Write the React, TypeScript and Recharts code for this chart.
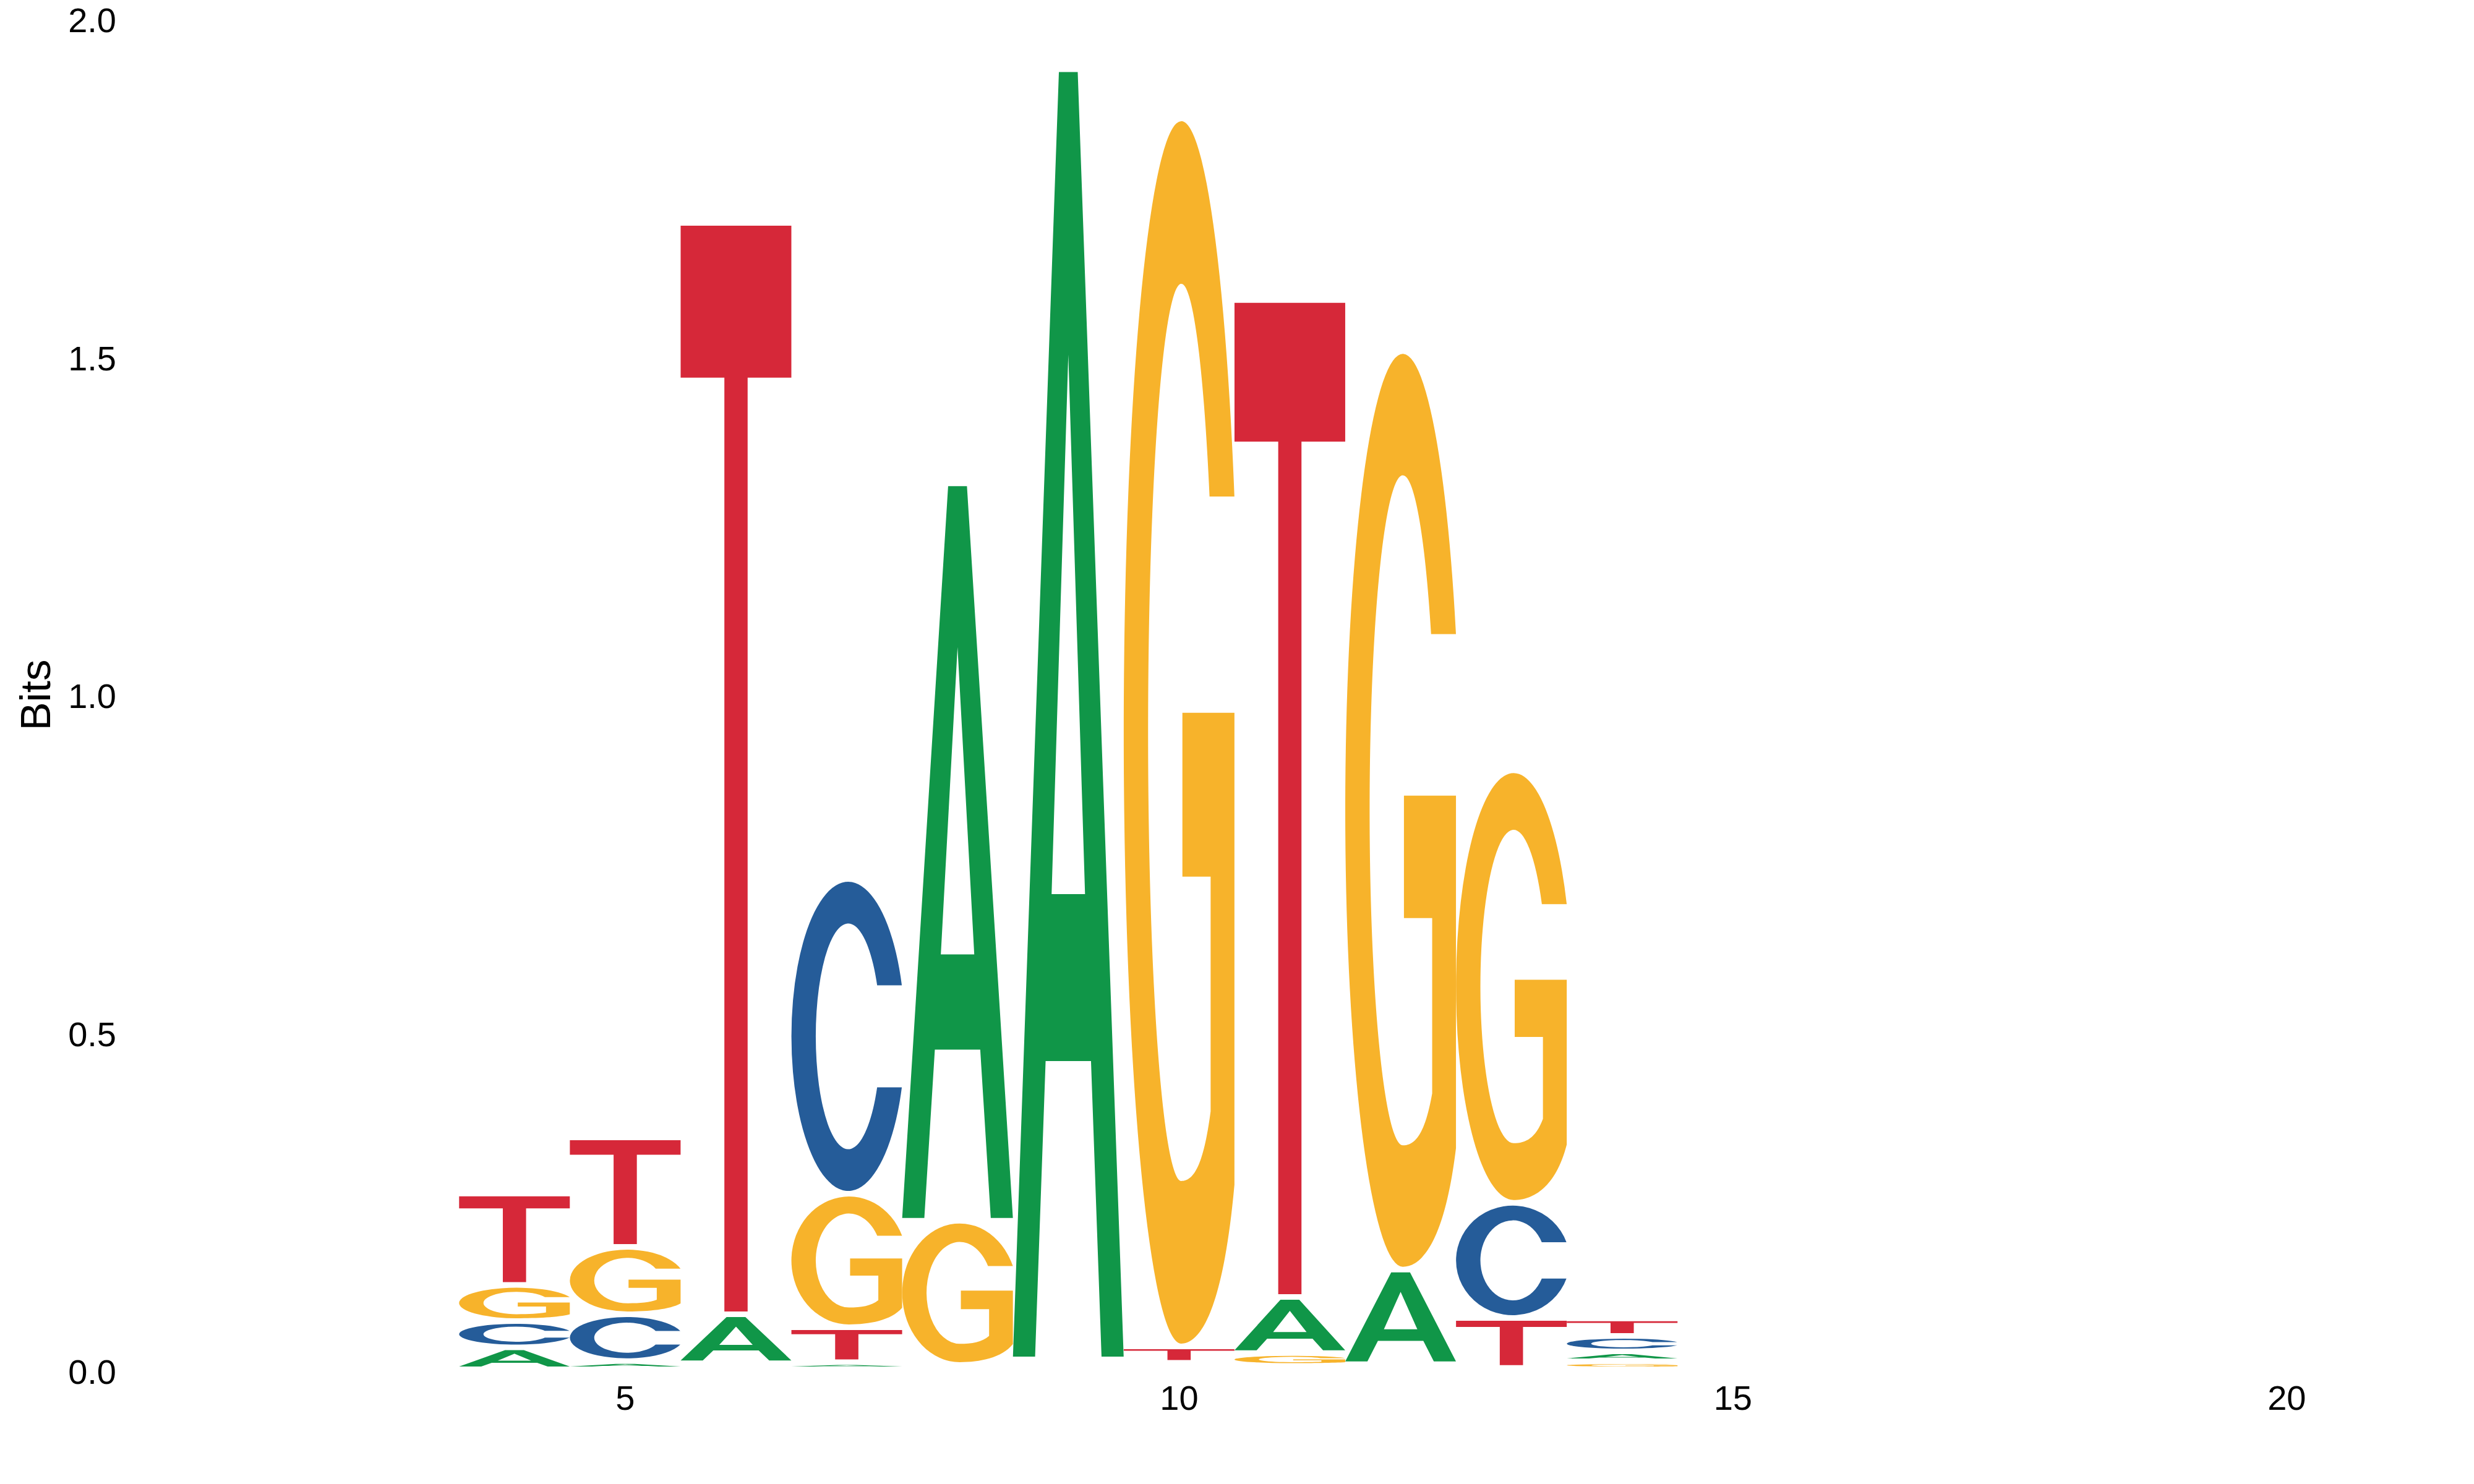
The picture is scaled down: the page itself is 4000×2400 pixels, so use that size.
import React from "react";
import { BarChart, Bar, XAxis, YAxis } from "recharts";

// sequence positions shown in the logo
const positions = [4, 5, 6, 7, 8, 9, 10, 11, 12, 13, 14];

// information (bits) carried by each base at each position
const bitsA = [0.0325, 0.0121, 0.0724, 0.0105, 1.091, 1.909, 0.0048, 0.083, 0.14, 0.002, 0.0146];
const bitsC = [0.0389, 0.0693, 0.0045, 0.4657, 0.003, 0.0049, 0.0048, 0.005, 0.0038, 0.1705, 0.0229];
const bitsG = [0.0534, 0.0998, 0.0045, 0.1976, 0.2135, 0.0049, 1.817, 0.019, 1.359, 0.64, 0.0119];
const bitsT = [0.1352, 0.1619, 1.6149, 0.0517, 0.0034, 0.0049, 0.0243, 1.475, 0.0038, 0.0739, 0.0259];

const xTicks = [5, 10, 15, 20];
const yTicks = [0, 0.5, 1, 1.5, 2];

const COLORS: Record<string, string> = {
  A: "#109648",
  C: "#255C99",
  G: "#F7B32B",
  T: "#D62839",
};

const W = 4000;
const H = 2400;
const MARGIN = { top: 33, right: 34, bottom: 121, left: 55 };
const Y_AXIS_W = 150;
const X_AXIS_H = 60;
const X_DOMAIN: [number, number] = [0.5, 21.5];
const UNIT = (W - MARGIN.left - MARGIN.right - Y_AXIS_W) / (X_DOMAIN[1] - X_DOMAIN[0]);
const GAP = 9; // white space under each letter
const FONT = "'Liberation Sans', Arial, Helvetica, sans-serif";

const byLetter: Record<string, number[]> = { A: bitsA, C: bitsC, G: bitsG, T: bitsT };

// smallest letter at the bottom, biggest on top
const rows = positions.map((pos, i) => {
  const stack = ["A", "C", "G", "T"]
    .map((l) => ({ l, h: byLetter[l][i] }))
    .sort((a, b) => a.h - b.h);
  const row: Record<string, number | string> = { pos };
  stack.forEach((s, k) => {
    row["v" + k] = s.h;
    row["l" + k] = s.l;
  });
  return row;
});

function ellU(cx: number, cy: number, rx: number, ry: number, v: number) {
  const t = (v - cy) / ry;
  return cx + rx * Math.sqrt(Math.max(0, 1 - t * t));
}

function letterPath(letter: string, x: number, top: number, w: number, h: number) {
  const px = (u: number) => (x + u * w).toFixed(2);
  const py = (v: number) => (top + (1 - v) * h).toFixed(2);
  const P = (u: number, v: number) => `${px(u)},${py(v)}`;

  if (letter === "A") {
    return (
      `M${P(0, 0)} L${P(0.415, 1)} L${P(0.585, 1)} L${P(1, 0)} L${P(0.8, 0)} ` +
      `L${P(0.705, 0.23)} L${P(0.295, 0.23)} L${P(0.2, 0)} Z ` +
      `M${P(0.349, 0.36)} L${P(0.651, 0.36)} L${P(0.5, 0.78)} Z`
    );
  }
  if (letter === "T") {
    return (
      `M${P(0, 1)} L${P(1, 1)} L${P(1, 0.86)} L${P(0.605, 0.86)} L${P(0.605, 0)} ` +
      `L${P(0.395, 0)} L${P(0.395, 0.86)} L${P(0, 0.86)} Z`
    );
  }
  if (letter === "C") {
    const [cx, cy, ro, so, ri, si] = [0.513, 0.5, 0.513, 0.5, 0.293, 0.365];
    const vu = 0.665;
    const vl = 0.335;
    const o1 = ellU(cx, cy, ro, so, vu);
    const o2 = ellU(cx, cy, ro, so, vl);
    const i1 = ellU(cx, cy, ri, si, vl);
    const i2 = ellU(cx, cy, ri, si, vu);
    return (
      `M${P(o1, vu)} A${(ro * w).toFixed(2)} ${(so * h).toFixed(2)} 0 1 0 ${P(o2, vl)} ` +
      `L${P(i1, vl)} A${(ri * w).toFixed(2)} ${(si * h).toFixed(2)} 0 1 1 ${P(i2, vu)} Z`
    );
  }
  // G
  const [cx, cy, ro, so, ri, si] = [0.52, 0.5, 0.52, 0.5, 0.3, 0.367];
  const vu = 0.693;
  const o1 = ellU(cx, cy, ro, so, vu);
  const i2 = ellU(cx, cy, ri, si, vu);
  return (
    `M${P(o1, vu)} A${(ro * w).toFixed(2)} ${(so * h).toFixed(2)} 0 1 0 ${P(cx, 0)} ` +
    `C${P(0.7, 0)} ${P(0.9, 0.03)} ${P(1, 0.13)} L${P(1, 0.516)} L${P(0.53, 0.516)} ` +
    `L${P(0.53, 0.382)} L${P(0.785, 0.382)} L${P(0.785, 0.19)} ` +
    `C${P(0.72, 0.145)} ${P(0.63, cy - si)} ${P(cx, cy - si)} ` +
    `A${(ri * w).toFixed(2)} ${(si * h).toFixed(2)} 0 1 1 ${P(i2, vu)} Z`
  );
}

function makeShape(k: number) {
  return (props: any) => {
    const { x, y, width, height, payload } = props;
    const letter = payload && payload["l" + k];
    const gh = height - GAP;
    if (!letter || !(gh > 0.4)) return <g />;
    return (
      <path
        d={letterPath(letter, x, y, width, gh)}
        fill={COLORS[letter]}
        fillRule="evenodd"
      />
    );
  };
}

const YTick = (props: any) => {
  const { y, payload } = props;
  return (
    <text x={188} y={y + 19.3} textAnchor="end" fontSize={56} fontFamily={FONT} fill="#000">
      {Number(payload.value).toFixed(1)}
    </text>
  );
};

const XTick = (props: any) => {
  const { x, payload } = props;
  return (
    <text x={x} y={2280} textAnchor="middle" fontSize={56} fontFamily={FONT} fill="#000">
      {payload.value}
    </text>
  );
};

const BitsLabel = () => {
  const cx = 81;
  const cy = 1124;
  return (
    <text
      x={cx}
      y={cy}
      transform={`rotate(-90 ${cx} ${cy})`}
      textAnchor="middle"
      fontSize={69}
      fontFamily={FONT}
      fill="#000"
    >
      Bits
    </text>
  );
};

export default function App() {
  return (
    <div style={{ position: "absolute", left: 0, top: 0, width: W, height: H, background: "#fff" }}>
      <BarChart width={W} height={H} data={rows} margin={MARGIN} barCategoryGap={0} barGap={0}>
        <XAxis
          dataKey="pos"
          type="number"
          domain={X_DOMAIN}
          ticks={xTicks}
          allowDataOverflow
          axisLine={false}
          tickLine={false}
          height={X_AXIS_H}
          tick={<XTick />}
          interval={0}
        />
        <YAxis
          type="number"
          domain={[0, 2]}
          ticks={yTicks}
          allowDataOverflow
          axisLine={false}
          tickLine={false}
          width={Y_AXIS_W}
          tick={<YTick />}
          interval={0}
          label={<BitsLabel />}
        />
        {[0, 1, 2, 3].map((k) => (
          <Bar
            key={k}
            dataKey={"v" + k}
            stackId="logo"
            barSize={UNIT - 0.1}
            isAnimationActive={false}
            shape={makeShape(k)}
          />
        ))}
      </BarChart>
    </div>
  );
}
